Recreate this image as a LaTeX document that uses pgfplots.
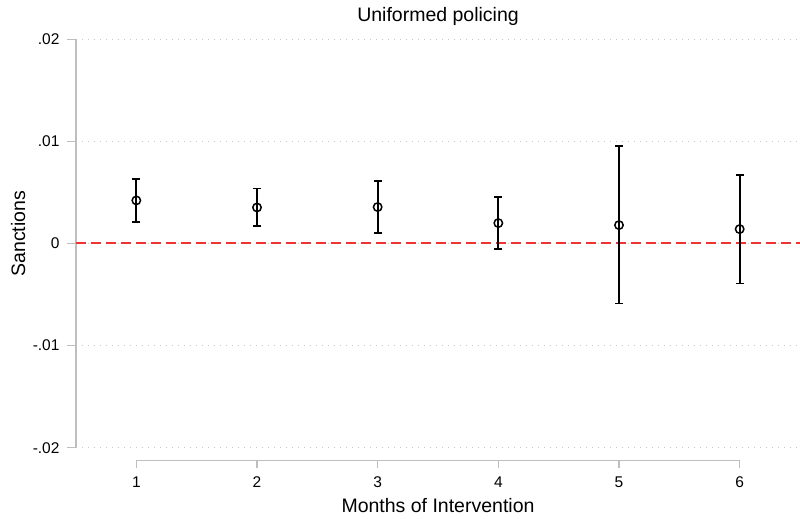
\documentclass[border=0pt]{standalone}
\usepackage{fontspec}
\setmainfont{Liberation Sans}
\usepackage{pgfplots}
\usepackage{pgfplotstable}
\pgfplotsset{compat=1.18}

\definecolor{axisgray}{RGB}{190,190,190}
\definecolor{gridgray}{RGB}{200,200,200}
\definecolor{refred}{RGB}{240,50,50}

% point estimates with lower and upper bounds of the confidence interval
\pgfplotstableread{
month est      lo       hi
1     0.00422  0.00212  0.00634
2     0.00353  0.00167  0.00539
3     0.00357  0.00105  0.00610
4     0.00200 -0.00052  0.00451
5     0.00180 -0.00588  0.00955
6     0.00141 -0.00392  0.00671
}\coefs

\begin{document}
\begin{tikzpicture}
\begin{axis}[
  scale only axis,
  width=724pt, height=408.4pt,
  xmin=0.5, xmax=6.5,
  ymin=-0.02, ymax=0.02,
  clip=false,
  axis y line*=left,
  axis x line*=bottom,
  x axis line style={draw=none},
  y axis line style={axisgray, line width=1.5pt},
  xtick={1,2,3,4,5,6},
  xticklabels={1,2,3,4,5,6},
  xtick style={draw=none},
  ytick={-0.02,-0.01,0,0.01,0.02},
  yticklabels={-.02,-.01,0,.01,.02},
  scaled y ticks=false,
  tick align=outside,
  major tick length=9pt,
  ytick style={axisgray, line width=1.5pt},
  ymajorgrids,
  grid style={gridgray, line width=1pt, dash pattern=on 1pt off 5pt},
  /pgf/number format/assume math mode=true,
  tick label style={font=\fontsize{15.5}{18}\selectfont, text=black},
  yticklabel style={anchor=east, xshift=-4pt},
  xticklabel style={anchor=base, yshift=-31pt},
  title={Uniformed policing},
  title style={font=\fontsize{19.5}{23}\selectfont, at={(axis description cs:0.5,1)}, anchor=base, yshift=12pt},
  xlabel={Months of Intervention},
  xlabel style={font=\fontsize{19.5}{23}\selectfont, at={(axis description cs:0.5,0)}, anchor=base, yshift=-65pt},
  ylabel={Sanctions},
  ylabel style={font=\fontsize{19.5}{23}\selectfont, at={(axis description cs:-0.0704,0.524)}, anchor=base},
]
  % reference line at zero
  \addplot[color=refred, line width=2pt, dash pattern=on 10pt off 5pt] coordinates {(0.5,0) (6.5,0)};

  % estimates with confidence intervals
  \addplot[black, only marks, mark=o, mark size=4.2pt, line width=1.5pt,
    error bars/.cd, y dir=both, y explicit,
    error bar style={line width=1.9pt, black},
    error mark options={rotate=90, mark size=4pt, line width=1.9pt, black}]
    table[x=month, y=est,
          y error plus expr=\thisrow{hi}-\thisrow{est},
          y error minus expr=\thisrow{est}-\thisrow{lo}] {\coefs};

  % offset x axis spanning the first to the last month
  \draw[axisgray, line width=1.5pt]
    ([yshift=-20pt]axis cs:1,-0.02) -- ([yshift=-13pt]axis cs:1,-0.02)
    -- ([yshift=-13pt]axis cs:6,-0.02) -- ([yshift=-20pt]axis cs:6,-0.02);
  \pgfplotsinvokeforeach{2,3,4,5}{
    \draw[axisgray, line width=1.5pt]
      ([yshift=-13pt]axis cs:#1,-0.02) -- ([yshift=-20pt]axis cs:#1,-0.02);
  }
\end{axis}
\pgfresetboundingbox
\path[use as bounding box] (-76pt,-71.3pt) rectangle (724pt,447.7pt);
\end{tikzpicture}
\end{document}
